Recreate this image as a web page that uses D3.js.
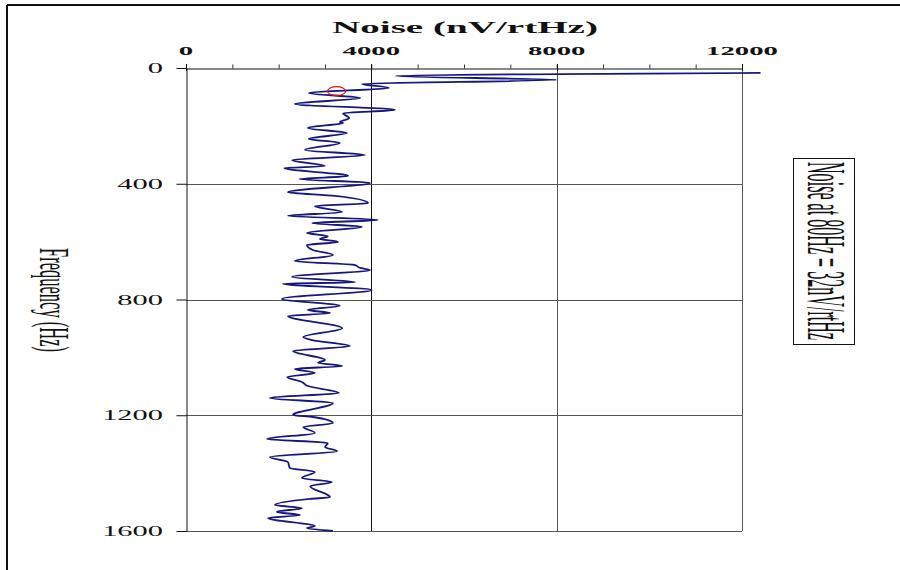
<!DOCTYPE html>
<html>
<head>
<meta charset="utf-8">
<script src="https://cdn.jsdelivr.net/npm/d3@7"></script>
<style>
body{margin:0;background:#fff;}
svg{display:block;}
</style>
</head>
<body>
<svg id="chart" width="900" height="570"></svg>
<script>
// noise spectrum (frequency in Hz, noise in nV/rtHz)
var freq = [17,28,41,55,69,86,104,124,145,156,173,187,190,207,225,245,259,283,301,318,
    339,346,373,384,397,429,442,467,477,498,511,525,536,549,570,581,591,601,612,629,
    646,667,681,691,698,722,740,746,767,798,822,836,847,857,899,930,940,961,978,1009,
    1019,1030,1040,1054,1068,1085,1099,1123,1140,1158,1199,1206,1227,1241,1261,1282,1296,1310,1324,1344,
    1362,1382,1396,1417,1431,1445,1483,1489,1510,1521,1534,1545,1555,1583,1590,1600];
var noise = [12400,4530,8000,3800,4380,2650,3760,2350,4510,3390,3520,3320,3390,2630,3470,2650,3320,2570,3860,2290,
    3000,2120,3500,2440,3970,2200,3220,3930,2780,3370,2200,4140,2720,3800,2610,3060,2890,3280,2610,2740,
    3170,2350,3650,3760,3970,2290,3650,2090,4010,2070,3320,2630,3110,2200,3370,2530,2720,3540,2310,3000,
    2850,3370,2350,2780,2180,2500,2630,3300,1810,3170,2310,2740,3170,2530,2780,1750,3060,3000,3260,1810,
    2200,2240,2780,2500,3150,2680,3110,2680,1920,2500,1960,2460,1770,2780,2610,3170];

var xTicks = [0,4000,8000,12000];
var yTicks = [0,400,800,1200,1600];
var markFreq = 80, markNoise = 3250;

var svg = d3.select("#chart");
var FONT = "'Liberation Serif','Times New Roman',serif";

var x = d3.scaleLinear().domain([0,12000]).range([186,742]);
var y = d3.scaleLinear().domain([0,1600]).range([68,531]);

// outer frame (only top and left edges visible)
svg.append("line").attr("x1",7).attr("y1",5).attr("x2",900).attr("y2",5)
    .attr("stroke","#111").attr("stroke-width",2);
svg.append("line").attr("x1",7).attr("y1",5).attr("x2",7).attr("y2",570)
    .attr("stroke","#111").attr("stroke-width",2);

// grid
svg.selectAll(".vgrid").data(xTicks.slice(1)).enter().append("line")
    .attr("class","vgrid")
    .attr("x1",function(d){return Math.round(x(d))+0.5;})
    .attr("x2",function(d){return Math.round(x(d))+0.5;})
    .attr("y1",y(0)).attr("y2",y(1600))
    .attr("stroke",function(d){return d==4000?"#111":"#555";})
    .attr("stroke-width",1);
svg.selectAll(".hgrid").data(yTicks.slice(1)).enter().append("line")
    .attr("class","hgrid")
    .attr("x1",x(0)).attr("x2",x(12000))
    .attr("y1",function(d){return Math.round(y(d))+0.5;})
    .attr("y2",function(d){return Math.round(y(d))+0.5;})
    .attr("stroke","#555").attr("stroke-width",1);

// top axis: minor ticks every 1000 pointing up, major ticks crossing the line
var topAxis = svg.append("g").attr("transform","translate(0,"+(Math.round(y(0))+0.5)+")")
    .call(d3.axisTop(x).tickValues(d3.range(0,12001,1000)).tickSizeInner(4).tickSizeOuter(0).tickFormat(""));
topAxis.select(".domain").attr("stroke","#111");
topAxis.selectAll(".tick line").attr("stroke","#333");
svg.selectAll(".xmajor").data(xTicks).enter().append("line")
    .attr("x1",function(d){return Math.round(x(d))+0.5;})
    .attr("x2",function(d){return Math.round(x(d))+0.5;})
    .attr("y1",y(0)-4).attr("y2",y(0)+3)
    .attr("stroke","#111");

svg.selectAll(".xlab").data(xTicks).enter().append("text")
    .attr("transform",function(d){return "translate("+x(d)+",55) scale(2.3,1)";})
    .attr("text-anchor","middle")
    .attr("font-family",FONT).attr("font-weight","bold").attr("font-size",12.5)
    .attr("fill","#111")
    .text(function(d){return d;});

// left axis
var leftAxis = svg.append("g").attr("transform","translate("+(Math.round(x(0))+0.5)+",0)")
    .call(d3.axisLeft(y).tickValues(yTicks).tickSizeInner(10).tickSizeOuter(0).tickFormat(""));
leftAxis.select(".domain").attr("stroke","#111");
leftAxis.selectAll(".tick line").attr("stroke","#111");

svg.selectAll(".ylab").data(yTicks).enter().append("text")
    .attr("transform",function(d){return "translate(163,"+(y(d)+5)+") scale(2.1,1)";})
    .attr("text-anchor","end")
    .attr("font-family",FONT).attr("font-size",14.5)
    .attr("fill","#111")
    .text(function(d){return d;});

// titles
svg.append("text")
    .attr("transform","translate(465,33) scale(2.37,1)")
    .attr("text-anchor","middle")
    .attr("font-family",FONT).attr("font-weight","bold").attr("font-size",16.5)
    .attr("fill","#111")
    .text("Noise (nV/rtHz)");

svg.append("text")
    .attr("transform","translate(54,300) scale(2.5,1) rotate(90)")
    .attr("text-anchor","middle").attr("dy","0.33em")
    .attr("font-family",FONT).attr("font-size",16.5)
    .attr("fill","#111")
    .text("Frequency (Hz)");

// annotation box
svg.append("rect").attr("x",793.5).attr("y",158.5).attr("width",61).attr("height",186)
    .attr("fill","none").attr("stroke","#111").attr("stroke-width",1);
svg.append("text")
    .attr("transform","translate(826,251) scale(3.4,1) rotate(90)")
    .attr("text-anchor","middle").attr("dy","0.33em")
    .attr("font-family",FONT).attr("font-size",16)
    .attr("textLength",178).attr("lengthAdjust","spacingAndGlyphs")
    .attr("fill","#111")
    .text("Noise at 80Hz = 32nV/rtHz");

// noise curve, smoothed along frequency
var pts = freq.map(function(f,i){return {f:f,n:noise[i]};});
var line = d3.line()
    .curve(d3.curveMonotoneY)
    .x(function(d){return x(d.n);})
    .y(function(d){return y(d.f);});
svg.append("path").datum(pts)
    .attr("d",line)
    .attr("fill","none")
    .attr("stroke","#16167f")
    .attr("stroke-width",1.8)
    .attr("stroke-linejoin","round");

// marker at 80 Hz
svg.append("ellipse")
    .attr("cx",x(markNoise)).attr("cy",y(markFreq))
    .attr("rx",9).attr("ry",4.5)
    .attr("fill","none").attr("stroke","#e01010").attr("stroke-width",1.2);
</script>
</body>
</html>
